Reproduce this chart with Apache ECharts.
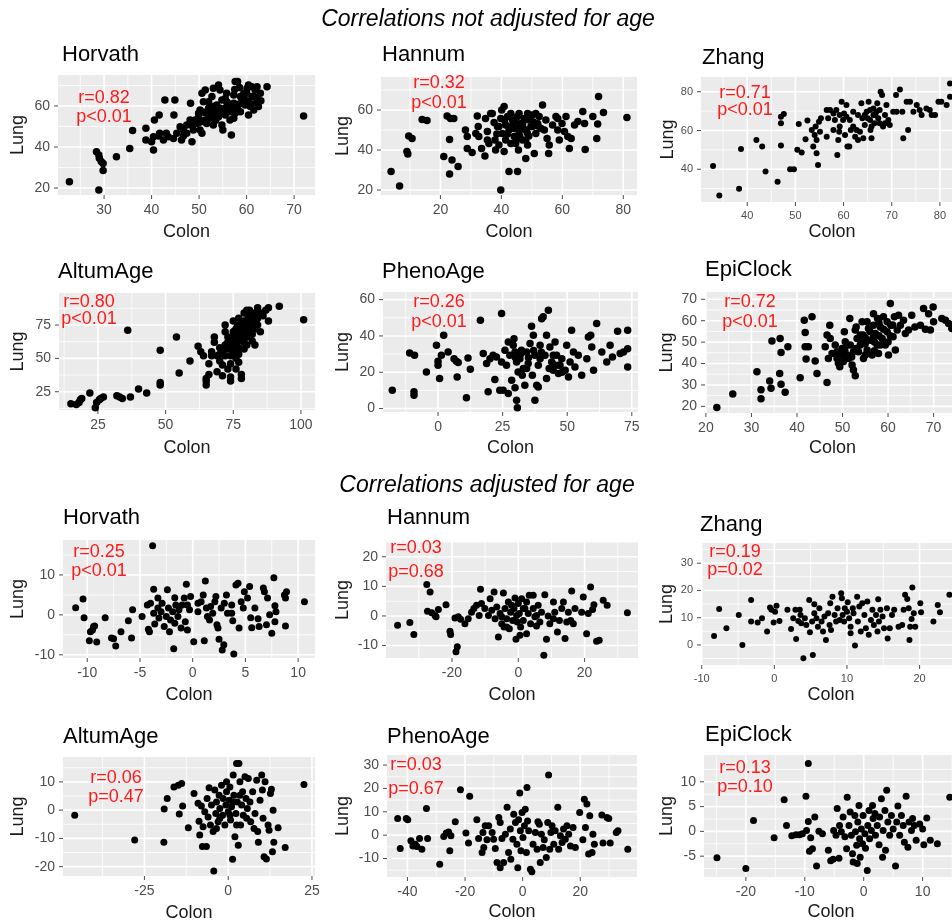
<!DOCTYPE html>
<html>
<head>
<meta charset="utf-8">
<script src="https://cdn.jsdelivr.net/npm/echarts@6.0.0/dist/echarts.min.js"></script>
<style>
  html, body { margin: 0; padding: 0; background: #ffffff; }
  #chart { width: 952px; height: 922px; }
</style>
</head>
<body>
<div id="chart"></div>
<script>
// Epigenetic clock estimates: Colon (x) vs Lung (y) per donor

const clockNames = ['Horvath', 'Hannum', 'Zhang', 'AltumAge', 'PhenoAge', 'EpiClock'];
const sectionTitles = ['Correlations not adjusted for age', 'Correlations adjusted for age'];

// --- not adjusted for age ---
const horvathRaw = [[22.7,23.1],[28.9,19.0],[28.4,37.7],[28.9,36.1],[29.0,34.5],[29.4,32.9],[29.8,32.0],[29.8,28.5],[32.6,35.3],[35.4,39.3],[36.0,48.0],[38.8,49.1],[38.8,43.4],[40.4,38.5],[40.6,53.2],[41.6,55.6],[40.4,45.0],[41.5,45.4],[42.5,43.4],[43.5,45.0],[42.8,62.9],[44.7,55.6],[44.9,62.9],[44.6,44.2],[45.3,46.7],[46.0,49.9],[46.7,48.3],[46.3,43.4],[47.4,46.7],[48.1,53.2],[48.5,42.6],[48.2,61.3],[48.8,48.3],[49.5,51.5],[49.9,54.8],[50.2,48.3],[50.6,46.7],[50.2,58.0],[50.6,66.2],[51.3,67.8],[50.9,62.1],[51.3,53.2],[51.6,56.4],[52.0,58.9],[52.3,54.0],[52.7,64.6],[53.0,50.7],[53.4,57.2],[53.7,60.5],[54.1,70.2],[54.1,54.8],[54.4,67.8],[54.8,62.9],[55.0,48.3],[55.1,58.0],[55.5,55.6],[55.8,66.2],[56.2,59.7],[56.5,53.2],[56.8,45.9],[57.3,61.3],[57.6,71.9],[58.1,71.9],[57.6,56.4],[58.7,64.6],[59.4,66.2],[60.1,68.6],[60.4,70.2],[60.4,55.6],[60.8,59.7],[61.1,64.6],[61.5,58.0],[61.8,67.8],[62.2,62.1],[62.5,59.7],[62.9,66.2],[64.3,69.4],[72.0,55.1],[49.2,53.2],[49.9,56.4],[51.6,51.5],[52.3,58.0],[53.0,59.7],[53.7,55.6],[54.4,58.9],[55.8,62.1],[56.5,57.2],[57.3,65.4],[58.0,58.9],[58.7,57.2],[59.0,62.9],[59.7,60.5],[61.1,69.4],[61.5,64.6],[60.4,62.1],[62.2,69.4],[54.8,50.7],[47.4,50.7],[46.7,45.4],[43.1,46.7],[41.7,46.7],[40.0,42.6],[50.9,52.4],[55.5,63.7],[53.0,68.6],[57.3,54.0],[52.5,55.5],[53.5,53.0],[54.5,56.5],[55.5,59.0],[56.0,61.5],[57.0,58.0],[58.5,61.0],[59.5,64.0],[60.0,66.5],[61.0,61.0],[62.0,64.0],[63.0,62.5],[57.5,68.0],[58.5,69.0],[51.0,57.0],[50.0,52.0],[48.5,50.5],[52.0,62.0]];

const hannumRaw = [[3.8,29.2],[6.6,22.0],[9.6,47.0],[10.7,45.8],[9.0,39.2],[9.3,38.0],[14.0,55.3],[15.6,54.7],[21.1,36.7],[22.2,57.0],[23.3,55.8],[24.4,55.8],[23.0,45.3],[23.8,35.0],[23.0,28.0],[25.8,31.7],[28.2,50.0],[28.8,46.7],[28.8,40.8],[30.4,38.7],[32.1,57.0],[32.4,51.7],[32.6,46.7],[33.5,40.8],[34.6,37.0],[34.8,55.8],[35.4,49.2],[35.9,43.3],[36.5,58.3],[37.0,58.3],[37.6,53.7],[37.9,45.0],[38.1,40.0],[38.7,51.7],[39.2,42.5],[39.8,20.0],[40.1,60.0],[40.9,61.7],[40.3,48.3],[40.9,39.2],[41.4,52.5],[41.4,45.0],[42.0,56.7],[42.5,29.2],[42.5,50.0],[43.1,43.3],[43.6,55.0],[44.2,46.7],[44.7,51.7],[45.3,29.2],[45.3,56.7],[45.6,40.0],[45.8,49.2],[46.4,53.3],[46.9,45.0],[47.5,55.8],[48.0,35.8],[48.0,50.0],[48.6,42.5],[49.1,55.0],[49.7,51.7],[50.2,57.5],[50.8,38.3],[51.3,48.3],[51.9,53.3],[52.4,56.7],[53.5,62.5],[54.1,50.0],[54.6,55.0],[55.0,45.8],[55.5,38.3],[55.7,42.5],[56.8,52.5],[57.9,56.7],[58.5,50.0],[59.0,45.0],[59.9,53.3],[60.7,49.2],[61.2,56.7],[61.8,46.7],[62.3,40.8],[62.9,45.8],[64.0,52.5],[65.1,54.2],[66.7,59.2],[67.3,53.3],[67.5,40.3],[70.0,56.7],[71.3,45.8],[71.6,53.0],[71.9,66.7],[73.5,58.7],[81.2,56.3],[43.1,58.3],[44.2,50.8],[45.8,58.3],[46.9,51.7],[48.6,58.3],[50.2,51.7],[51.3,58.3],[53.0,50.8],[39.2,51.7],[44.7,43.3],[48.0,45.0],[31.6,48.3],[35.4,45.0],[39.8,55.8],[58.5,55.8],[42.0,48.0],[43.5,52.0],[44.5,54.0],[46.0,47.0],[47.0,53.0],[49.0,47.0],[50.5,54.0],[52.0,52.0],[41.0,55.0],[38.5,48.0],[45.0,45.5],[48.5,48.5]];

const zhangRaw = [[32.9,41.7],[34.2,26.4],[38.3,29.9],[38.7,50.5],[41.9,55.1],[43.1,51.7],[43.8,38.8],[46.3,33.6],[47.0,52.2],[47.0,63.7],[47.0,67.1],[47.6,68.5],[48.9,40.0],[49.7,40.0],[50.4,50.0],[50.7,63.3],[51.3,48.6],[52.1,55.5],[52.5,65.1],[53.4,60.3],[53.7,51.7],[54.2,62.0],[54.4,55.1],[54.4,48.2],[54.7,42.2],[54.9,64.5],[55.1,59.4],[55.3,66.3],[54.0,57.7],[56.5,70.6],[56.8,66.3],[57.2,70.6],[57.9,68.8],[58.2,65.4],[58.5,70.6],[58.7,47.4],[58.9,55.1],[59.1,59.4],[59.2,62.0],[59.6,74.8],[59.9,65.4],[60.1,68.8],[60.3,57.7],[60.6,73.1],[60.8,51.7],[61.2,51.7],[61.3,65.4],[61.5,60.3],[62.0,69.7],[62.4,56.8],[62.7,60.3],[63.0,55.1],[63.4,59.4],[63.7,74.0],[63.9,66.3],[64.1,56.0],[64.4,62.8],[64.8,69.7],[65.0,66.3],[65.2,74.8],[65.5,65.4],[65.6,60.3],[65.8,56.0],[66.2,71.4],[66.4,63.7],[66.6,68.0],[67.0,74.0],[67.2,66.3],[67.5,70.6],[67.7,80.0],[68.0,78.3],[68.2,62.0],[68.6,68.0],[68.9,73.1],[69.3,65.4],[69.6,62.8],[70.3,69.7],[70.9,78.3],[71.0,69.7],[71.7,81.2],[72.2,69.7],[72.4,56.0],[73.1,74.8],[73.4,60.3],[73.8,74.8],[74.5,69.7],[75.2,73.1],[75.8,70.6],[76.2,68.0],[77.2,71.4],[77.9,70.6],[78.3,68.0],[79.0,68.0],[79.7,74.8],[80.3,74.8],[81.4,73.1],[82.1,84.3],[82.1,77.4],[63.0,68.0],[64.4,68.0],[66.2,68.0],[65.8,62.0],[67.5,63.7],[68.6,63.7],[66.8,69.7],[65.5,70.6],[62.0,62.0],[60.6,67.1],[59.2,68.0],[57.9,60.3],[56.5,56.8]];

const altumRaw = [[15.0,16.0],[17.0,15.5],[18.0,17.0],[18.5,19.0],[19.0,20.0],[22.0,24.0],[24.0,13.0],[24.5,17.0],[25.5,19.0],[26.0,20.0],[27.0,21.0],[32.0,22.0],[33.0,21.0],[34.0,20.0],[37.0,21.0],[40.0,27.0],[43.0,24.0],[36.0,71.0],[48.0,56.0],[48.0,32.0],[48.0,30.0],[54.0,66.0],[55.0,39.0],[59.0,48.0],[62.0,59.0],[63.0,55.0],[64.0,52.0],[65.0,35.0],[65.0,33.0],[65.0,30.0],[66.0,46.0],[66.0,38.0],[67.0,52.0],[67.0,55.0],[68.0,66.0],[68.0,62.0],[69.0,52.0],[69.0,40.0],[70.0,53.0],[70.0,48.0],[71.0,45.0],[71.0,37.0],[72.0,60.0],[72.0,70.0],[72.0,75.0],[73.0,62.0],[73.0,57.0],[73.0,42.0],[74.0,36.0],[74.0,33.0],[74.0,46.0],[75.0,65.0],[75.0,70.0],[75.0,78.0],[75.0,55.0],[76.0,60.0],[76.0,72.0],[76.0,67.0],[76.0,42.0],[77.0,63.0],[77.0,75.0],[77.0,80.0],[77.0,58.0],[78.0,68.0],[78.0,73.0],[78.0,38.0],[78.0,35.0],[79.0,62.0],[79.0,78.0],[79.0,84.0],[80.0,70.0],[80.0,66.0],[80.0,75.0],[81.0,80.0],[81.0,86.0],[81.0,72.0],[82.0,78.0],[82.0,68.0],[82.0,63.0],[83.0,60.0],[83.0,84.0],[84.0,88.0],[84.0,75.0],[85.0,70.0],[86.0,82.0],[88.0,78.0],[88.0,88.0],[92.0,89.0],[101.0,79.0],[70.0,58.0],[72.0,52.0],[74.0,58.0],[76.0,50.0],[77.0,53.0],[79.0,57.0],[80.0,60.0],[83.0,72.0],[84.0,80.0],[74.5,62.0],[75.5,68.0],[76.5,74.0],[77.5,70.0],[78.5,76.0],[79.5,72.0],[80.5,82.0],[81.5,76.0],[82.5,82.0],[83.5,79.0],[78.0,64.0],[76.0,56.0],[74.0,52.0],[73.0,66.0],[71.0,56.0],[80.0,86.0],[85.0,84.0],[87.0,86.0],[79.0,66.0],[77.0,47.0]];

const phenoRaw = [[-17.7,10.1],[-11.0,30.6],[-9.1,29.4],[-9.3,9.2],[-9.3,7.3],[-4.5,20.2],[-0.6,34.9],[0.0,23.9],[0.0,26.0],[0.6,16.5],[1.3,29.4],[2.2,40.4],[3.9,31.2],[6.2,27.5],[7.1,26.0],[7.4,17.4],[7.8,25.3],[11.0,5.9],[11.6,27.9],[12.5,21.7],[16.4,48.6],[17.5,30.3],[18.8,24.8],[19.4,9.2],[20.1,27.5],[21.3,29.4],[22.0,16.0],[22.6,28.4],[23.9,10.1],[24.6,52.3],[24.6,25.7],[25.2,10.1],[25.9,32.1],[26.5,23.9],[27.2,8.3],[27.2,36.7],[27.8,29.4],[28.5,15.6],[29.1,34.9],[29.4,38.5],[29.8,31.2],[29.8,11.4],[30.4,4.6],[30.7,0.4],[31.0,20.2],[31.7,27.5],[32.3,32.1],[32.6,18.3],[33.0,22.0],[33.6,12.8],[34.3,31.2],[34.9,24.8],[35.6,35.8],[36.2,45.3],[36.5,18.3],[36.9,40.4],[37.5,4.6],[37.5,29.4],[38.2,12.8],[38.8,11.9],[38.8,23.9],[39.5,34.9],[40.1,49.5],[40.7,50.5],[41.4,29.4],[42.0,40.4],[42.0,16.5],[42.7,54.1],[43.3,33.9],[44.0,25.7],[44.6,21.1],[45.3,36.7],[45.9,29.4],[46.6,19.3],[47.2,23.9],[47.9,27.5],[49.2,21.1],[49.8,34.9],[50.5,17.4],[51.7,43.1],[52.4,31.2],[53.0,22.9],[54.3,29.4],[55.6,18.3],[57.6,27.5],[58.2,39.4],[59.1,40.4],[59.5,33.9],[60.2,21.1],[61.4,46.8],[63.4,31.2],[65.3,25.7],[66.6,34.9],[67.5,28.4],[69.5,42.6],[70.5,30.3],[71.8,31.2],[73.4,43.1],[73.4,33.0],[73.4,22.9],[30.4,25.7],[34.3,22.0],[44.6,29.4],[46.6,23.9],[39.5,27.5],[51.1,25.7],[30.0,28.0],[32.0,30.0],[35.0,28.0],[37.0,32.0],[45.0,24.0],[48.0,20.0],[43.0,22.0],[40.0,31.0]];

const epiRaw = [[22.4,19.5],[25.9,25.8],[31.2,36.2],[32.1,27.7],[32.1,23.5],[34.0,31.9],[34.3,28.4],[34.5,50.5],[36.2,35.4],[36.3,51.7],[36.5,45.2],[36.5,30.3],[37.4,26.6],[38.0,47.8],[40.7,33.4],[41.6,60.2],[41.8,54.5],[41.8,47.8],[42.5,47.8],[42.0,42.1],[43.3,61.8],[44.0,41.2],[44.4,35.4],[46.2,47.8],[46.6,53.3],[46.6,31.1],[47.2,57.9],[47.3,51.7],[46.9,42.4],[47.7,44.7],[48.4,48.6],[48.8,45.5],[49.1,40.1],[49.4,38.5],[49.5,44.0],[49.9,47.0],[50.2,40.9],[50.4,54.8],[50.6,50.2],[51.0,44.0],[51.3,42.4],[51.6,61.0],[51.7,48.6],[52.1,39.3],[52.4,37.0],[52.8,34.3],[52.8,55.6],[53.2,51.7],[53.5,45.5],[53.9,48.6],[54.3,59.5],[54.5,53.3],[54.6,42.4],[55.0,49.4],[55.4,46.3],[55.7,56.4],[56.1,50.9],[56.5,44.0],[56.8,63.3],[57.2,54.0],[57.6,48.6],[57.7,61.0],[57.9,44.7],[58.3,57.1],[58.7,51.7],[59.0,61.8],[59.4,48.6],[59.8,54.8],[60.1,44.0],[60.5,68.0],[60.6,57.9],[61.1,52.5],[61.4,61.8],[61.6,46.3],[62.0,55.6],[62.3,62.6],[62.7,57.9],[63.4,60.2],[63.8,54.0],[64.5,55.6],[65.2,62.6],[65.9,57.1],[67.1,57.9],[67.8,65.7],[68.2,56.0],[68.9,63.3],[69.3,55.6],[69.9,66.4],[70.0,59.5],[71.8,61.0],[72.6,60.2],[73.3,58.7],[74.0,56.4],[51.0,48.6],[52.4,45.5],[53.9,53.3],[56.8,52.5],[58.3,48.6],[55.4,59.5],[56.8,57.9],[59.8,59.5],[49.9,44.0],[48.8,42.4],[53.0,47.0],[54.0,51.0],[55.0,52.0],[56.0,55.0],[57.0,50.0],[58.0,53.0],[59.0,56.0],[60.0,50.0],[61.0,58.0],[57.0,46.0],[55.0,44.0],[52.0,43.0],[50.5,46.0],[53.0,57.0],[58.0,59.0],[60.5,53.0]];

// --- adjusted for age (residuals) ---
const horvathAdj = [[-11.1,1.8],[-10.4,4.0],[-10.3,-0.7],[-9.8,-6.5],[-9.7,-4.2],[-9.4,-2.9],[-9.3,-2.8],[-9.5,-3.8],[-9.1,-6.8],[-8.3,-0.7],[-7.7,-5.8],[-7.5,-6.0],[-7.3,-7.8],[-6.8,-4.2],[-6.1,-1.5],[-5.8,-5.8],[-5.7,1.3],[-4.8,-0.4],[-4.3,2.5],[-4.2,-3.6],[-4.1,-4.2],[-4.0,2.9],[-3.8,17.3],[-3.7,6.4],[-3.7,0.4],[-3.6,-2.3],[-3.3,1.7],[-3.2,-0.8],[-3.0,0.8],[-2.9,2.9],[-2.7,-2.9],[-2.5,-0.4],[-2.4,6.3],[-2.3,1.7],[-2.2,-4.2],[-2.1,-1.3],[-1.9,0.8],[-1.8,-8.5],[-1.7,4.3],[-1.6,2.5],[-1.4,-0.4],[-1.3,1.3],[-1.1,-3.3],[-1.0,2.5],[-0.8,4.2],[-0.7,-1.7],[-0.6,7.7],[-0.5,-3.8],[-0.3,1.3],[-0.2,4.6],[0.1,-6.7],[0.5,0.8],[0.8,3.3],[1.0,5.0],[1.1,-6.5],[1.2,8.5],[1.3,1.7],[1.4,-0.4],[1.6,-1.3],[1.7,2.1],[1.9,0.4],[2.1,3.3],[2.2,4.6],[2.3,-2.5],[2.4,-3.3],[2.5,-6.1],[2.7,1.7],[2.8,-8.8],[2.95,-7.5],[3.0,2.9],[3.2,5.0],[3.3,0.4],[3.7,2.5],[3.8,-1.5],[3.9,-9.8],[4.1,7.5],[4.3,7.9],[4.4,-3.3],[4.6,3.3],[4.8,1.7],[4.9,5.8],[5.2,4.2],[5.4,7.1],[5.5,-0.7],[5.6,-3.2],[5.9,1.7],[6.2,-1.0],[6.3,-2.9],[6.7,6.7],[6.8,5.8],[7.0,-2.5],[7.1,4.2],[7.3,0.0],[7.5,-4.6],[7.7,9.3],[7.8,-1.7],[7.8,2.3],[7.9,0.8],[8.7,5.0],[8.8,4.2],[8.9,5.8],[8.8,-2.8],[10.6,3.3],[0.5,2.9],[-0.5,2.5],[3.7,0.4],[-3.3,4.2],[-1.7,-2.1]];

const hannumAdj = [[-36.4,-3.1],[-32.7,-2.2],[-31.5,-6.3],[-27.6,10.6],[-26.6,8.1],[-27.4,1.6],[-26.1,1.1],[-25.1,0.2],[-24.1,2.2],[-24.8,-0.3],[-21.8,3.8],[-20.6,-5.2],[-20.4,-6.3],[-19.1,-0.7],[-18.8,-12.1],[-18.4,-10.4],[-18.1,-0.3],[-17.4,-1.1],[-16.1,-2.6],[-15.1,-0.9],[-14.1,1.3],[-13.4,2.5],[-12.6,3.6],[-11.8,0.2],[-11.4,9.0],[-11.1,4.2],[-10.1,2.5],[-9.0,0.2],[-8.5,5.8],[-8.0,1.9],[-7.3,8.1],[-7.0,-0.9],[-6.5,3.0],[-6.0,-7.1],[-5.5,0.8],[-5.0,-2.6],[-4.5,7.8],[-4.3,-3.7],[-4.0,2.5],[-3.5,-0.9],[-3.0,4.7],[-2.7,-4.3],[-2.3,1.3],[-1.7,-1.5],[-1.3,2.5],[-1.0,6.1],[-0.7,-7.9],[-0.3,-2.0],[0.0,4.2],[0.3,0.8],[0.7,-3.7],[1.0,5.8],[1.5,-1.5],[2.0,2.5],[2.5,-6.0],[3.0,0.8],[3.3,7.0],[3.7,-2.6],[4.5,7.0],[5.0,-0.3],[5.5,-3.4],[6.0,3.6],[6.5,-2.0],[7.0,1.3],[7.7,-13.3],[8.0,7.2],[8.5,-7.9],[9.0,0.0],[9.5,-2.6],[10.6,4.7],[11.0,1.3],[11.8,-5.4],[12.4,-1.5],[13.1,2.5],[13.6,4.7],[14.1,-7.6],[14.6,-2.0],[15.1,1.3],[15.8,-1.5],[16.1,8.4],[16.6,-2.6],[17.1,2.5],[19.1,1.3],[19.6,6.4],[20.6,-6.0],[21.1,0.8],[21.8,9.8],[22.4,2.2],[22.8,3.8],[23.6,-8.5],[24.4,-8.2],[25.6,5.3],[26.8,3.6],[32.9,1.1],[-2.0,3.6],[1.5,2.5],[2.5,4.7],[-0.5,0.2],[4.5,2.5],[5.5,0.2],[-3.5,-3.7],[-5.0,-0.3],[0.5,-6.5],[10.6,-0.9]];

const zhangAdj = [[-8.3,3.3],[-7.6,13.2],[-6.6,6.1],[-4.9,11.0],[-4.4,0.0],[-3.2,16.5],[-3.2,8.6],[-2.3,8.2],[-1.7,9.8],[-1.0,4.9],[-0.6,13.7],[-0.4,12.9],[-0.1,8.2],[0.1,12.2],[0.3,14.4],[0.7,8.8],[1.8,12.9],[2.3,5.9],[2.6,9.8],[2.9,12.9],[3.0,2.2],[3.3,8.8],[3.5,12.9],[3.6,11.0],[3.7,8.0],[4.0,-4.9],[4.2,9.8],[4.4,7.3],[4.8,16.5],[4.9,4.7],[5.2,8.6],[5.3,-3.7],[5.5,11.6],[5.5,14.9],[5.8,9.8],[6.0,6.7],[6.2,13.5],[6.5,8.6],[6.7,4.9],[6.9,10.4],[7.1,1.8],[7.4,11.6],[7.6,7.3],[7.7,15.3],[7.8,5.5],[8.0,17.7],[8.3,11.0],[8.5,8.6],[8.7,13.5],[9.0,9.2],[9.2,19.0],[9.3,17.1],[9.4,11.0],[9.6,8.6],[9.7,13.5],[10.0,12.2],[10.1,15.7],[10.3,9.8],[10.5,6.7],[10.5,4.3],[10.8,13.5],[10.9,11.6],[11.1,-0.2],[11.4,17.7],[11.5,8.6],[11.7,14.1],[11.9,4.9],[12.1,15.3],[12.4,11.0],[12.6,6.1],[12.8,15.9],[13.0,3.7],[13.3,9.2],[13.5,12.9],[13.7,7.3],[14.0,11.0],[14.2,4.9],[14.3,16.8],[14.4,8.6],[14.6,12.9],[14.9,10.4],[15.1,6.1],[15.5,13.5],[15.6,2.4],[15.9,6.1],[16.2,11.0],[16.5,12.9],[17.1,6.7],[17.6,7.3],[17.8,12.9],[18.0,18.4],[18.3,16.9],[18.5,13.5],[18.7,6.7],[18.6,1.8],[18.9,9.5],[19.0,21.1],[19.2,11.6],[19.4,6.7],[20.1,15.3],[20.2,12.0],[21.9,8.6],[22.5,14.7],[22.8,12.0],[24.1,18.4]];

const altumAdj = [[-45.8,-1.8],[-27.9,-10.6],[-19.2,-11.4],[-19.1,0.4],[-18.2,4.1],[-16.2,8.2],[-14.9,8.8],[-13.9,9.4],[-13.6,1.5],[-14.6,-1.4],[-11.9,-6.2],[-10.2,5.9],[-9.0,2.4],[-8.7,-3.9],[-8.5,-8.8],[-8.0,1.5],[-7.7,-12.9],[-7.5,-5.9],[-7.0,-0.6],[-6.5,-12.9],[-6.3,4.1],[-6.0,-2.4],[-5.7,7.9],[-5.3,-5.3],[-5.0,1.8],[-4.5,-7.6],[-4.3,-21.5],[-4.0,7.1],[-3.7,-1.2],[-3.5,2.9],[-3.0,-4.1],[-2.7,5.3],[-2.5,0.6],[-2.0,8.8],[-1.7,-1.8],[-1.5,4.1],[-1.0,-5.3],[-0.7,1.8],[-0.5,6.5],[0.0,-0.6],[0.3,3.5],[0.5,8.2],[0.7,-3.5],[1.0,1.2],[1.3,-17.4],[1.5,12.4],[1.7,5.3],[2.0,-9.4],[2.3,-1.2],[2.5,16.5],[2.7,2.9],[3.0,-12.4],[3.2,16.5],[3.5,10.0],[3.7,-5.3],[4.0,1.8],[4.3,6.5],[4.5,-1.8],[5.0,11.8],[5.3,4.1],[5.7,0.6],[6.0,11.2],[6.5,2.9],[6.7,-4.1],[7.3,6.5],[7.7,-6.5],[8.0,-1.2],[8.5,10.6],[8.8,-7.6],[9.0,-11.4],[9.5,3.5],[10.0,12.4],[10.2,7.1],[10.4,-2.9],[10.7,-16.5],[11.0,10.0],[11.4,-17.3],[11.9,-5.3],[12.2,-7.1],[12.6,5.9],[12.9,7.4],[13.2,-14.7],[13.4,0.0],[13.6,-11.4],[14.9,-6.2],[17.0,-13.2],[22.6,9.1],[0.5,-1.8],[1.5,2.9],[-2.5,-2.9],[3.5,5.3],[5.5,-2.9],[-3.5,-6.5],[2.5,-5.3],[-0.5,10.0]];

const phenoAdj = [[-43.4,7.1],[-42.5,-5.7],[-40.4,7.1],[-39.9,6.6],[-38.8,-2.4],[-38.1,-4.6],[-37.3,-3.9],[-36.7,-4.9],[-35.8,-1.4],[-35.0,-6.0],[-33.4,11.4],[-33.0,-1.4],[-28.8,-12.4],[-27.4,-0.6],[-26.5,0.9],[-25.7,1.4],[-24.9,-0.3],[-25.3,-6.7],[-23.4,5.7],[-21.6,19.4],[-19.7,0.9],[-18.8,-3.4],[-18.4,16.6],[-15.9,6.6],[-15.3,-1.4],[-14.1,-7.4],[-13.8,1.1],[-13.5,-5.3],[-13.0,4.0],[-12.4,-2.0],[-11.8,4.0],[-10.6,1.1],[-10.1,-1.7],[-9.5,-5.7],[-8.9,-11.7],[-8.3,7.6],[-7.8,-13.9],[-7.8,5.4],[-7.2,-1.4],[-6.6,-11.7],[-6.0,0.4],[-5.4,11.9],[-4.9,-7.4],[-4.3,2.6],[-4.1,-10.3],[-3.4,-1.7],[-3.1,9.0],[-2.5,5.4],[-2.0,-3.9],[-1.7,-13.9],[-1.4,6.6],[-1.0,18.0],[-0.8,1.9],[-0.6,-6.7],[-0.2,9.7],[0.1,-1.0],[0.6,4.0],[0.9,11.1],[1.3,-7.4],[1.5,20.4],[1.7,6.1],[2.1,1.9],[2.7,-14.6],[3.2,-15.7],[3.6,-3.9],[4.4,1.1],[5.0,-6.0],[5.3,5.7],[5.8,4.7],[6.1,-11.7],[6.5,0.4],[7.1,-5.3],[7.5,-2.0],[8.2,-9.6],[8.7,5.4],[9.0,25.7],[9.4,-6.0],[9.8,1.1],[10.2,4.0],[10.8,-3.9],[11.3,1.9],[12.2,11.9],[12.5,-6.0],[13.1,-0.3],[13.7,-3.1],[14.2,2.6],[14.8,-1.7],[15.4,4.0],[16.0,0.4],[16.6,-4.6],[17.5,3.3],[18.3,-5.3],[19.8,9.7],[20.9,-2.0],[21.4,15.4],[21.8,3.3],[22.3,13.3],[22.9,-8.1],[23.3,8.3],[24.1,-7.4],[24.4,0.4],[24.9,-3.9],[27.5,8.6],[27.9,-3.4],[29.3,7.6],[29.9,7.1],[30.4,-3.4],[32.5,1.1],[33.1,1.9],[36.5,-6.0]];

const epiAdj = [[-24.9,-5.3],[-20.0,-7.5],[-18.7,2.2],[-15.2,-1.3],[-13.5,6.4],[-13.1,1.2],[-12.2,-0.9],[-11.5,-0.7],[-10.9,-0.7],[-10.4,-0.5],[-9.8,7.1],[-9.7,0.2],[-9.4,13.7],[-9.4,2.0],[-9.2,-4.0],[-9.0,-1.3],[-8.7,-3.5],[-8.3,2.9],[-8.0,-7.0],[-7.6,0.0],[-7.0,-0.5],[-6.0,-3.8],[-5.6,-5.9],[-5.2,-5.6],[-5.1,0.2],[-4.7,-0.8],[-4.5,4.6],[-4.2,-5.4],[-4.1,1.2],[-3.8,-0.1],[-3.5,2.9],[-3.2,-1.1],[-2.9,-3.5],[-2.8,6.9],[-2.5,1.2],[-2.3,3.9],[-2.1,-0.8],[-1.9,-4.5],[-1.8,-6.2],[-1.5,3.2],[-1.4,-0.1],[-1.2,-2.8],[-1.1,-6.5],[-1.0,1.9],[-0.8,5.2],[-0.7,-1.5],[-0.6,-5.2],[-0.4,0.5],[-0.2,-2.5],[-0.1,3.2],[0.2,-0.5],[0.3,-3.4],[0.6,-7.9],[0.7,1.2],[0.9,4.2],[1.0,-1.5],[1.3,0.2],[1.5,5.2],[1.6,2.6],[1.9,3.6],[2.0,-0.8],[2.3,1.2],[2.6,-2.7],[2.7,2.9],[3.0,6.6],[3.2,-5.2],[3.3,0.2],[3.6,4.2],[3.7,-3.8],[3.9,8.3],[4.1,1.9],[4.4,-0.8],[4.7,3.2],[5.0,0.5],[5.4,-7.0],[5.6,1.9],[5.8,5.1],[6.1,-0.8],[6.4,3.2],[6.7,1.2],[6.9,-2.2],[7.2,7.1],[7.5,-3.2],[7.7,1.9],[8.1,0.2],[8.3,2.6],[8.6,1.2],[8.9,-1.8],[9.5,1.5],[10.0,0.5],[10.2,-2.7],[10.7,2.7],[11.3,-1.8],[12.5,-2.5],[14.6,6.9]];

const panelData = [horvathRaw, hannumRaw, zhangRaw, altumRaw, phenoRaw, epiRaw,
                   horvathAdj, hannumAdj, zhangAdj, altumAdj, phenoAdj, epiAdj];

const rLabels = ['r=0.82', 'r=0.32', 'r=0.71', 'r=0.80', 'r=0.26', 'r=0.72',
                 'r=0.25', 'r=0.03', 'r=0.19', 'r=0.06', 'r=0.03', 'r=0.13'];
const pLabels = ['p<0.01', 'p<0.01', 'p<0.01', 'p<0.01', 'p<0.01', 'p<0.01',
                 'p<0.01', 'p=0.68', 'p=0.02', 'p=0.47', 'p=0.67', 'p=0.10'];

const xTickSets = [[30,40,50,60,70], [20,40,60,80], [40,50,60,70,80], [25,50,75,100], [0,25,50,75], [20,30,40,50,60,70],
                   [-10,-5,0,5,10], [-20,0,20], [-10,0,10,20], [-25,0,25], [-40,-20,0,20], [-20,-10,0,10]];
const yTickSets = [[20,40,60], [20,40,60], [40,60,80], [25,50,75], [0,20,40,60], [20,30,40,50,60,70],
                   [-10,0,10], [-10,0,10,20], [0,10,20,30], [-20,-10,0,10], [-10,0,10,20,30], [-5,0,5,10]];

// ---- panel geometry (pixels) and axis limits ----
const layout = [
  {l:58,  t:75,  w:257, h:120, x:[20.3,74.4],  y:[16.6,75.1],  tx:62,  ty:55,  ax:104, ay:[98,117],  yg:31, xg:28, small:false, dot:7.5},
  {l:381, t:77,  w:256, h:118, x:[0.5,84.5],   y:[17.5,76.5],  tx:382, ty:55,  ax:439, ay:[83,103],  yg:29, xg:28, small:false, dot:7.5},
  {l:701, t:77,  w:262, h:125, x:[30.4,84.8],  y:[23.1,87.6],  tx:702, ty:58,  ax:745, ay:[93,110],  yg:24, xg:21, small:true,  dot:6},
  {l:59,  t:293, w:256, h:117, x:[10.6,105.2], y:[11.3,99],    tx:58,  ty:272, ax:89,  ay:[302,319], yg:32, xg:29, small:false, dot:7.5},
  {l:383, t:292, w:255, h:120, x:[-21.3,77.4], y:[-1.9,64.2],  tx:382, ty:272, ax:439, ay:[302,322], yg:31, xg:27, small:false, dot:7.5},
  {l:705, t:292, w:255, h:121, x:[19.8,75.8],  y:[16.9,73.4],  tx:705, ty:270, ax:750, ay:[302,322], yg:29, xg:26, small:false, dot:7.5},
  {l:63,  t:540, w:252, h:118, x:[-12.3,11.6], y:[-10.8,18.75],tx:63,  ty:518, ax:99,  ay:[552,571], yg:36, xg:28, small:false, dot:7},
  {l:386, t:542, w:252, h:116, x:[-39.9,36.1], y:[-14.2,25],   tx:387, ty:518, ax:416, ay:[548,572], yg:34, xg:28, small:false, dot:7},
  {l:701, t:543, w:260, h:122, x:[-10.1,25.7], y:[-7.35,37.4], tx:700, ty:525, ax:735, ay:[552,570], yg:25, xg:21, small:true,  dot:6},
  {l:63,  t:757, w:252, h:119, x:[-49.3,25.9], y:[-23.3,18.8], tx:63,  ty:737, ax:116, ay:[778,797], yg:36, xg:28, small:false, dot:7},
  {l:387, t:755, w:250, h:122, x:[-47.1,39.7], y:[-17.9,34.3], tx:387, ty:737, ax:416, ay:[765,789], yg:35, xg:26, small:false, dot:7},
  {l:704, t:755, w:254, h:122, x:[-27.1,16],   y:[-9.2,15.4],  tx:705, ty:735, ax:745, ay:[768,787], yg:28, xg:26, small:false, dot:7}
];

const FONT = '"Liberation Sans", Arial, Helvetica, sans-serif';
const PANEL_BG = '#ebebeb';
const TICK_COLOR = '#4d4d4d';
const TICK_LEN = 4;
const MAJOR_W = 1.6;
const MINOR_W = 0.8;

function inRange(vals, lo, hi) { return vals.filter(v => v >= lo && v <= hi); }
// minor grid positions: midpoints between major breaks (extended by one step each side)
function minorBreaks(ticks, lo, hi) {
  const step = ticks[1] - ticks[0];
  const ext = [ticks[0] - step].concat(ticks, [ticks[ticks.length - 1] + step]);
  const out = [];
  for (let i = 0; i < ext.length - 1; i++) out.push((ext[i] + ext[i + 1]) / 2);
  return inRange(out, lo, hi);
}

// guide kinds: 0 = minor grid line, 1 = major grid line, 2 = tick mark
// orientation: 0 = vertical (x value), 1 = horizontal (y value)
function makeGuideRenderer(g) {
  return function (params, api) {
    const v = api.value(0), orient = api.value(1), kind = api.value(2);
    if (orient === 0) {
      const a = api.coord([v, g.y[0]]);
      const b = api.coord([v, g.y[1]]);
      if (kind === 2) {
        return { type: 'line', shape: { x1: a[0], y1: a[1], x2: a[0], y2: a[1] + TICK_LEN },
                 style: { stroke: TICK_COLOR, lineWidth: 1 } };
      }
      return { type: 'line', shape: { x1: a[0], y1: a[1], x2: b[0], y2: b[1] },
               style: { stroke: '#ffffff', lineWidth: kind === 1 ? MAJOR_W : MINOR_W } };
    }
    const a = api.coord([g.x[0], v]);
    const b = api.coord([g.x[1], v]);
    if (kind === 2) {
      return { type: 'line', shape: { x1: a[0] - TICK_LEN, y1: a[1], x2: a[0], y2: a[1] },
               style: { stroke: TICK_COLOR, lineWidth: 1 } };
    }
    return { type: 'line', shape: { x1: a[0], y1: a[1], x2: b[0], y2: b[1] },
             style: { stroke: '#ffffff', lineWidth: kind === 1 ? MAJOR_W : MINOR_W } };
  };
}

const grids = [], xAxes = [], yAxes = [], series = [], graphics = [];

layout.forEach((g, i) => {
  const xt = inRange(xTickSets[i], g.x[0], g.x[1]);
  const yt = inRange(yTickSets[i], g.y[0], g.y[1]);
  const labelSize = g.small ? 11 : 14;

  grids.push({
    left: g.l, top: g.t, width: g.w, height: g.h,
    show: true, backgroundColor: PANEL_BG, borderWidth: 0,
    containLabel: false, outerBoundsMode: 'none'
  });

  const nameStyle = { fontSize: 18, color: '#1a1a1a', fontFamily: FONT };
  const labelStyle = { show: true, margin: 8, color: TICK_COLOR, fontSize: labelSize, fontFamily: FONT,
                       showMinLabel: true, showMaxLabel: true, hideOverlap: false, formatter: v => String(v) };

  xAxes.push({
    type: 'value', gridIndex: i, position: 'bottom', min: g.x[0], max: g.x[1],
    axisLine: { show: false }, axisTick: { show: false }, splitLine: { show: false },
    axisLabel: Object.assign({ customValues: xt }, labelStyle),
    name: 'Colon', nameLocation: 'middle', nameGap: g.xg, nameTextStyle: nameStyle
  });
  yAxes.push({
    type: 'value', gridIndex: i, position: 'left', min: g.y[0], max: g.y[1],
    axisLine: { show: false }, axisTick: { show: false }, splitLine: { show: false },
    axisLabel: Object.assign({ customValues: yt }, labelStyle),
    name: 'Lung', nameLocation: 'middle', nameGap: g.yg, nameTextStyle: nameStyle
  });

  // grid lines and tick marks, all derived from the tick arrays
  const guides = [];
  minorBreaks(xTickSets[i], g.x[0], g.x[1]).forEach(v => guides.push([v, 0, 0]));
  minorBreaks(yTickSets[i], g.y[0], g.y[1]).forEach(v => guides.push([v, 1, 0]));
  xt.forEach(v => { guides.push([v, 0, 1]); guides.push([v, 0, 2]); });
  yt.forEach(v => { guides.push([v, 1, 1]); guides.push([v, 1, 2]); });

  series.push({
    type: 'custom', name: 'guides-' + i,
    xAxisIndex: i, yAxisIndex: i,
    data: guides,
    encode: { x: -1, y: -1 },
    renderItem: makeGuideRenderer(g),
    clip: false, silent: true, z: 1
  });

  series.push({
    type: 'scatter', name: clockNames[i % 6],
    xAxisIndex: i, yAxisIndex: i,
    data: panelData[i],
    symbol: 'circle', symbolSize: g.dot,
    itemStyle: { color: '#000000', opacity: 1 },
    silent: true, z: 3
  });

  // panel title
  graphics.push({
    type: 'text', x: g.tx, y: g.ty, silent: true,
    style: { text: clockNames[i % 6], fill: '#000000', fontSize: 22, fontFamily: FONT,
             align: 'left', verticalAlign: 'middle' }
  });
  // correlation annotation
  graphics.push({
    type: 'text', x: g.ax, y: g.ay[0], silent: true, z: 10,
    style: { text: rLabels[i], fill: '#ff1a1a', fontSize: 18, fontFamily: FONT, align: 'center', verticalAlign: 'middle' }
  });
  graphics.push({
    type: 'text', x: g.ax, y: g.ay[1], silent: true, z: 10,
    style: { text: pLabels[i], fill: '#ff1a1a', fontSize: 18, fontFamily: FONT, align: 'center', verticalAlign: 'middle' }
  });
});

// section headings
graphics.push({
  type: 'text', x: 488, y: 20, silent: true,
  style: { text: sectionTitles[0], fill: '#000000', fontSize: 23, fontStyle: 'italic', fontFamily: FONT,
           align: 'center', verticalAlign: 'middle' }
});
graphics.push({
  type: 'text', x: 487, y: 486, silent: true,
  style: { text: sectionTitles[1], fill: '#000000', fontSize: 23, fontStyle: 'italic', fontFamily: FONT,
           align: 'center', verticalAlign: 'middle' }
});

const chart = echarts.init(document.getElementById('chart'), null, { renderer: 'canvas', width: 952, height: 922 });
chart.setOption({
  backgroundColor: '#ffffff',
  animation: false,
  grid: grids,
  xAxis: xAxes,
  yAxis: yAxes,
  series: series,
  graphic: { elements: graphics }
});
</script>
</body>
</html>
